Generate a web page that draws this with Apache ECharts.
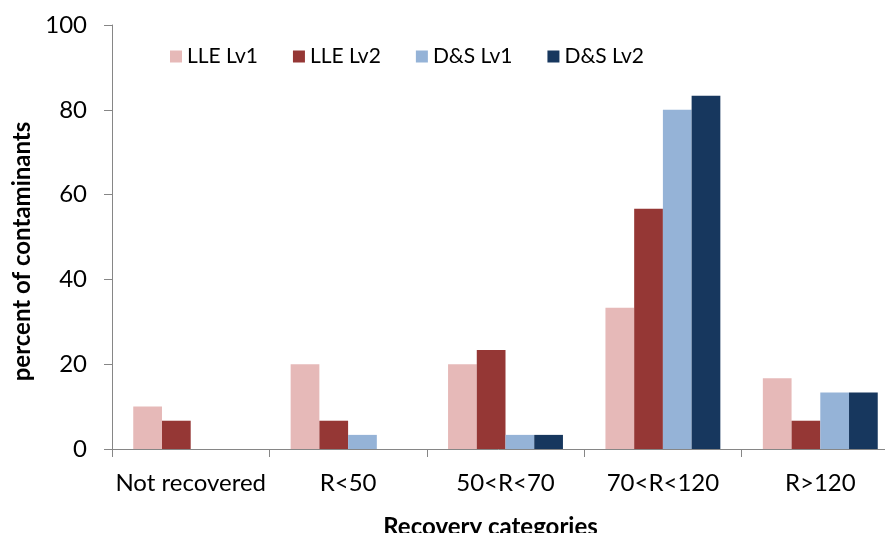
<!DOCTYPE html>
<html>
<head>
<meta charset="utf-8">
<script src="https://cdn.jsdelivr.net/npm/echarts@6/dist/echarts.min.js"></script>
<style>html,body{margin:0;padding:0;background:#fff}#c{width:885px;height:533px}</style>
</head>
<body>
<div id="c"></div>
<script>
var categories = ['Not recovered', 'R<50', '50<R<70', '70<R<120', 'R>120'];
var seriesNames = ['LLE Lv1', 'LLE Lv2', 'D&S Lv1', 'D&S Lv2'];
var lleLv1 = [10, 20, 20, 33.33, 16.67];
var lleLv2 = [6.67, 6.67, 23.33, 56.67, 6.67];
var dsLv1 = [0, 3.33, 3.33, 80, 13.33];
var dsLv2 = [0, 0, 3.33, 83.33, 13.33];
var yTicks = [0, 20, 40, 60, 80, 100];
var colors = ['#E6B9B8', '#953735', '#95B3D7', '#17375E'];
var values = [lleLv1, lleLv2, dsLv1, dsLv2];

var chart = echarts.init(document.getElementById('c'));
var axisColor = '#868686';
var font = 'Lato';
chart.setOption({
  animation: false,
  backgroundColor: '#fff',
  textStyle: { fontFamily: font },
  grid: { left: 112, top: 25, width: 787, height: 424, containLabel: false, outerBoundsMode: 'none' },
  legend: {
    top: 41, left: 165,
    itemWidth: 12, itemHeight: 12, itemGap: 35,
    icon: 'rect',
    textStyle: { fontFamily: font, fontSize: 21, color: '#000' },
    data: seriesNames
  },
  xAxis: {
    type: 'category',
    data: categories,
    axisLine: { lineStyle: { color: axisColor, width: 1 } },
    axisTick: { show: true, length: 8, lineStyle: { color: axisColor } },
    axisLabel: { color: '#000', fontFamily: font, fontSize: 24, margin: 22, interval: 0 },
    name: 'Recovery categories',
    nameLocation: 'middle',
    nameGap: 66,
    nameTextStyle: { color: '#000', fontFamily: font, fontSize: 24, fontWeight: 'bold', padding: [0, 30, 0, 0] }
  },
  yAxis: {
    type: 'value',
    min: 0, max: 100, interval: 20,
    axisLine: { show: true, lineStyle: { color: axisColor, width: 1 } },
    axisTick: { show: true, length: 8, lineStyle: { color: axisColor } },
    splitLine: { show: false },
    axisLabel: {
      color: '#000', fontFamily: font, fontSize: 24, margin: 25,
      formatter: function (v) { return yTicks.indexOf(v) >= 0 ? String(v) : ''; }
    },
    name: 'percent of contaminants',
    nameLocation: 'middle',
    nameGap: 78,
    nameTextStyle: { color: '#000', fontFamily: font, fontSize: 24, fontWeight: 'bold', padding: [0, 29, 0, 0] }
  },
  series: seriesNames.map(function (n, i) {
    return {
      name: n, type: 'bar', data: values[i],
      barGap: '0%', barCategoryGap: '27%',
      itemStyle: { color: colors[i] }
    };
  })
});
</script>
</body>
</html>
